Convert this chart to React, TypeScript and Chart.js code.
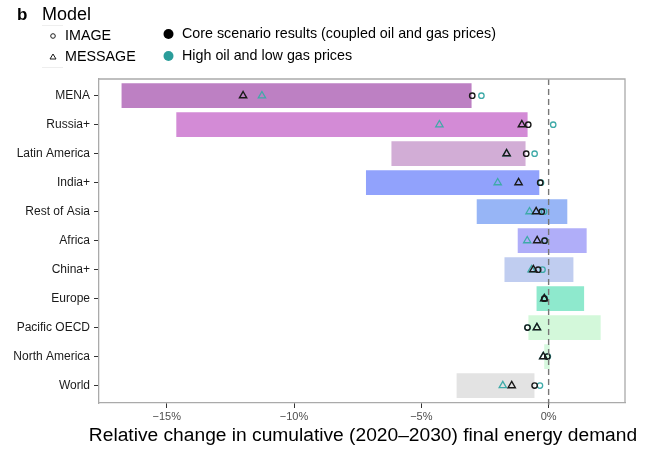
import { useEffect, useRef } from "react";
import Chart from "chart.js/auto";

const categories = [
  "MENA",
  "Russia+",
  "Latin America",
  "India+",
  "Rest of Asia",
  "Africa",
  "China+",
  "Europe",
  "Pacific OECD",
  "North America",
  "World",
];

// bar ranges (% change)
const rangeLow = [-16.8, -14.65, -6.2, -7.2, -2.85, -1.24, -1.76, -0.5, -0.82, -0.2, -3.64];
const rangeHigh = [-3.0, -0.8, -0.88, -0.34, 0.76, 1.52, 1.0, 1.42, 2.07, 0.07, -0.53];

const barColors = [
  "#bd80c3",
  "#d38bd6",
  "#d2add6",
  "#91a2fc",
  "#97b5f6",
  "#b0aef9",
  "#c0cdf0",
  "#8ee9cd",
  "#d3f8da",
  "#d6f8de",
  "#e3e3e3",
];

// model points
const imageCore = [-3.0, -0.8, -0.88, -0.33, -0.27, -0.16, -0.41, -0.17, -0.83, -0.05, -0.55];
const imageHigh = [-2.64, 0.18, -0.55, -0.3, -0.18, -0.14, -0.24, -0.15, -0.83, -0.03, -0.34];
const messageCore = [-12.0, -1.05, -1.65, -1.18, -0.49, -0.45, -0.6, -0.17, -0.46, -0.21, -1.45];
const messageHigh = [-11.26, -4.29, -1.65, -2.0, -0.75, -0.84, -0.67, -0.17, -0.46, -0.21, -1.8];

const xTicks = [-15, -10, -5, 0];
const xTitle = "Relative change in cumulative (2020\u20132030) final energy demand";

const BLACK = "#1a1a1a";
const TEAL = "#3eaaa8";
const FONT = "'Liberation Sans', Arial, sans-serif";

const frameAndLegend = {
  id: "frameAndLegend",
  afterDatasetsDraw(chart: any) {
    const { ctx, chartArea } = chart;
    const { left, right, top, bottom } = chartArea;
    const x0 = chart.scales.x.getPixelForValue(0);
    ctx.save();
    // dashed zero line
    ctx.strokeStyle = "#777";
    ctx.lineWidth = 1.4;
    ctx.setLineDash([6, 4]);
    ctx.beginPath();
    ctx.moveTo(x0, top);
    ctx.lineTo(x0, bottom + 5);
    ctx.stroke();
    ctx.setLineDash([]);
    // top / right frame
    ctx.strokeStyle = "#aaa";
    ctx.lineWidth = 1.3;
    ctx.beginPath();
    ctx.moveTo(left, top);
    ctx.lineTo(right, top);
    ctx.lineTo(right, bottom);
    ctx.stroke();
    ctx.restore();
  },
  afterDraw(chart: any) {
    const { ctx, chartArea } = chart;
    ctx.save();
    ctx.textBaseline = "middle";
    ctx.fillStyle = "#000";

    // x axis title (wider than the plot, so drawn here)
    ctx.textAlign = "center";
    ctx.font = `19.2px ${FONT}`;
    ctx.fillText(xTitle, (chartArea.left + chartArea.right) / 2 + 1, 436);
    ctx.textAlign = "left";

    ctx.font = `bold 17px ${FONT}`;
    ctx.fillText("b", 17, 15);
    ctx.font = `18px ${FONT}`;
    ctx.fillText("Model", 42, 15);

    // faint key lines
    ctx.strokeStyle = "#eee";
    ctx.lineWidth = 1;
    ctx.beginPath();
    ctx.moveTo(42, 25.5);
    ctx.lineTo(63, 25.5);
    ctx.moveTo(42, 67.5);
    ctx.lineTo(63, 67.5);
    ctx.stroke();

    ctx.strokeStyle = BLACK;
    ctx.lineWidth = 1;
    ctx.beginPath();
    ctx.arc(53, 36, 2.3, 0, Math.PI * 2);
    ctx.stroke();
    ctx.beginPath();
    ctx.moveTo(50, 59);
    ctx.lineTo(56, 59);
    ctx.lineTo(53, 54);
    ctx.closePath();
    ctx.stroke();

    ctx.font = `14.3px ${FONT}`;
    ctx.fillText("IMAGE", 65, 36);
    ctx.fillText("MESSAGE", 65, 57);

    ctx.fillStyle = "#000";
    ctx.beginPath();
    ctx.arc(168.5, 34, 5, 0, Math.PI * 2);
    ctx.fill();
    ctx.fillStyle = "#2a9d9a";
    ctx.beginPath();
    ctx.arc(168.5, 56, 5, 0, Math.PI * 2);
    ctx.fill();
    ctx.fillStyle = "#000";
    ctx.fillText("Core scenario results (coupled oil and gas prices)", 182, 34);
    ctx.fillText("High oil and low gas prices", 182, 56);
    ctx.restore();
  },
};

export default function App() {
  const canvasRef = useRef<HTMLCanvasElement | null>(null);

  useEffect(() => {
    document.body.style.margin = "0";
    const canvas = canvasRef.current;
    if (!canvas) return;
    const ctx = canvas.getContext("2d");
    if (!ctx) return;

    const points = (vals: number[]) => vals.map((v, i) => ({ x: v, y: i }));

    const chart = new Chart(ctx, {
      type: "bar",
      data: {
        datasets: [
          {
            type: "bar",
            label: "range",
            data: categories.map((_, i) => ({ x: [rangeLow[i], rangeHigh[i]], y: i })) as any,
            backgroundColor: barColors,
            borderColor: "rgba(255,255,255,0.55)",
            borderWidth: 1,
            borderSkipped: false,
            barThickness: 26,
            order: 10,
          },
          {
            type: "scatter",
            label: "MESSAGE high",
            data: points(messageHigh),
            pointStyle: "triangle",
            radius: 4.2,
            borderColor: TEAL,
            backgroundColor: "rgba(0,0,0,0)",
            borderWidth: 1.3,
            order: 5,
          },
          {
            type: "scatter",
            label: "IMAGE high",
            data: points(imageHigh),
            pointStyle: "circle",
            radius: 2.7,
            borderColor: TEAL,
            backgroundColor: "rgba(0,0,0,0)",
            borderWidth: 1.3,
            order: 5,
          },
          {
            type: "scatter",
            label: "MESSAGE core",
            data: points(messageCore),
            pointStyle: "triangle",
            radius: 4.2,
            borderColor: BLACK,
            backgroundColor: "rgba(0,0,0,0)",
            borderWidth: 1.4,
            order: 1,
          },
          {
            type: "scatter",
            label: "IMAGE core",
            data: points(imageCore),
            pointStyle: "circle",
            radius: 2.7,
            borderColor: BLACK,
            backgroundColor: "rgba(0,0,0,0)",
            borderWidth: 1.4,
            order: 1,
          },
        ],
      },
      options: {
        indexAxis: "y",
        responsive: true,
        maintainAspectRatio: false,
        animation: false,
        layout: { padding: { top: 79, left: 0, right: 21, bottom: 0 } },
        plugins: {
          legend: { display: false },
          tooltip: { enabled: false },
        },
        scales: {
          x: {
            type: "linear",
            min: -17.66,
            max: 3.0,
            afterBuildTicks: (scale: any) => {
              scale.ticks = xTicks.map((v) => ({ value: v }));
            },
            afterFit: (scale: any) => {
              scale.height = 49;
            },
            ticks: {
              color: "#4d4d4d",
              font: { family: FONT, size: 11 },
              padding: 2,
              callback: (v: any) => (v < 0 ? `\u2212${Math.abs(v)}%` : `${v}%`),
            },
            grid: {
              display: true,
              drawOnChartArea: false,
              drawTicks: true,
              tickLength: 5,
              color: "#333",
            },
            border: { display: true, color: "#aaa", width: 1.3 },
          },
          y: {
            type: "linear",
            reverse: true,
            offset: false,
            min: -0.576,
            max: 10.6,
            afterBuildTicks: (scale: any) => {
              scale.ticks = categories.map((_, i) => ({ value: i }));
            },
            afterFit: (scale: any) => {
              scale.width = 99;
            },
            ticks: {
              color: "#1a1a1a",
              font: { family: FONT, size: 12 },
              padding: 4,
              callback: (v: any) => categories[v] ?? "",
            },
            grid: {
              display: true,
              offset: false,
              drawOnChartArea: false,
              drawTicks: true,
              tickLength: 5,
              color: "#333",
            },
            border: { display: true, color: "#aaa", width: 1.3 },
          },
        },
      },
      plugins: [frameAndLegend],
    });

    return () => {
      chart.destroy();
    };
  }, []);

  return (
    <div style={{ position: "relative", width: 646, height: 452 }}>
      <canvas ref={canvasRef} />
    </div>
  );
}
